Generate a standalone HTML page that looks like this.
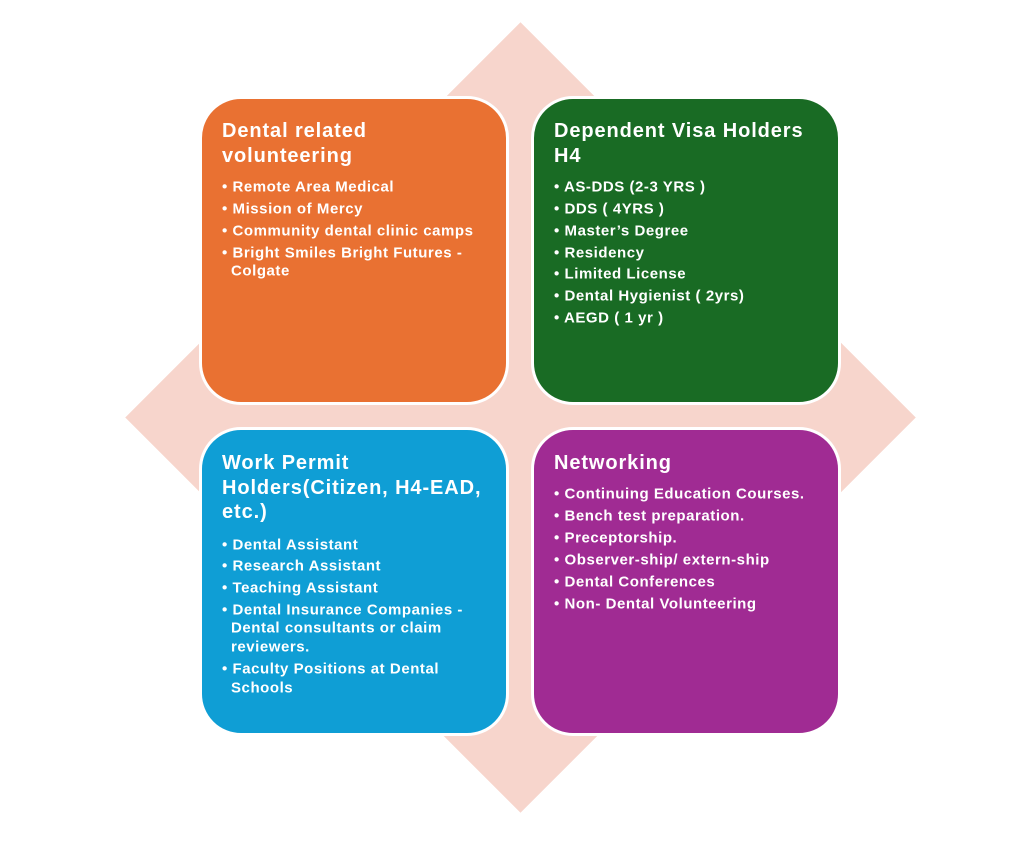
<!DOCTYPE html>
<html><head><meta charset="utf-8"><style>
body{margin:0;width:1023px;height:845px;background:#fff;position:relative;overflow:hidden;font-family:"Liberation Sans",sans-serif;font-weight:bold;color:#fff}
.dia{position:absolute;left:241px;top:138px;width:559px;height:559px;background:#F7D5CC;transform:rotate(45deg)}
.box{position:absolute;width:304px;height:303px;border:3px solid #fff;border-radius:42px;box-sizing:content-box}
.l{position:absolute;white-space:nowrap;line-height:1;transform:translateY(-50%)}
.t{font-size:20px;letter-spacing:0.9px}
.i{font-size:15px;letter-spacing:0.55px}
</style></head><body>
<div class="dia"></div>
<div class="box" style="left:199px;top:96px;background:#E97132"></div>
<div class="box" style="left:531px;top:96px;background:#196B24"></div>
<div class="box" style="left:199px;top:427px;background:#0F9ED5"></div>
<div class="box" style="left:531px;top:427px;background:#A02B93"></div>

<div class="l t" style="left:222px;top:131px">Dental related</div>
<div class="l t" style="left:222px;top:156px">volunteering</div>
<div class="l i" style="left:222px;top:187px">• Remote Area Medical</div>
<div class="l i" style="left:222px;top:209px">• Mission of Mercy</div>
<div class="l i" style="left:222px;top:231px">• Community dental clinic camps</div>
<div class="l i" style="left:222px;top:253px">•  Bright Smiles Bright Futures -</div>
<div class="l i" style="left:231px;top:271px">Colgate</div>

<div class="l t" style="left:554px;top:131px">Dependent Visa  Holders</div>
<div class="l t" style="left:554px;top:156px">H4</div>
<div class="l i" style="left:554px;top:187px">• AS-DDS (2-3 YRS )</div>
<div class="l i" style="left:554px;top:209px">• DDS ( 4YRS )</div>
<div class="l i" style="left:554px;top:231px">• Master’s Degree</div>
<div class="l i" style="left:554px;top:253px">• Residency</div>
<div class="l i" style="left:554px;top:274px">• Limited License</div>
<div class="l i" style="left:554px;top:296px">• Dental Hygienist ( 2yrs)</div>
<div class="l i" style="left:554px;top:318px">• AEGD ( 1 yr )</div>

<div class="l t" style="left:222px;top:463px">Work Permit</div>
<div class="l t" style="left:222px;top:488px">Holders(Citizen, H4-EAD,</div>
<div class="l t" style="left:222px;top:512px">etc.)</div>
<div class="l i" style="left:222px;top:545px">• Dental Assistant</div>
<div class="l i" style="left:222px;top:566px">• Research Assistant</div>
<div class="l i" style="left:222px;top:588px">• Teaching Assistant</div>
<div class="l i" style="left:222px;top:610px">• Dental Insurance Companies -</div>
<div class="l i" style="left:231px;top:628px">Dental consultants or claim</div>
<div class="l i" style="left:231px;top:647px">reviewers.</div>
<div class="l i" style="left:222px;top:669px">• Faculty Positions at Dental</div>
<div class="l i" style="left:231px;top:688px">Schools</div>

<div class="l t" style="left:554px;top:463px">Networking</div>
<div class="l i" style="left:554px;top:494px">• Continuing Education Courses.</div>
<div class="l i" style="left:554px;top:516px">• Bench test preparation.</div>
<div class="l i" style="left:554px;top:538px">• Preceptorship.</div>
<div class="l i" style="left:554px;top:560px">• Observer-ship/ extern-ship</div>
<div class="l i" style="left:554px;top:582px">• Dental Conferences</div>
<div class="l i" style="left:554px;top:604px">• Non- Dental Volunteering</div>
</body></html>
